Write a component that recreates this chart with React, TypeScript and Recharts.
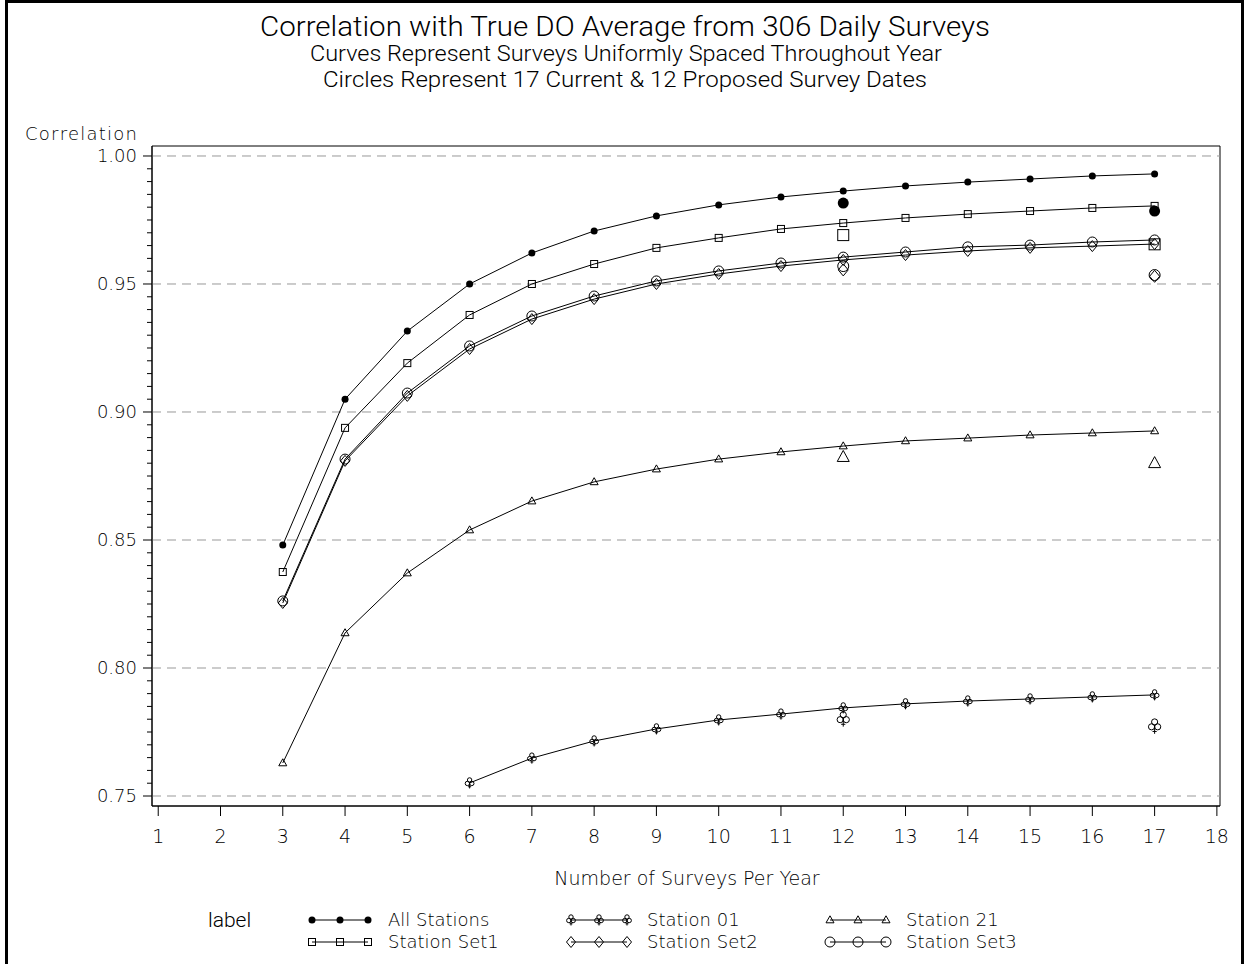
import {
  ComposedChart,
  Line,
  Scatter,
  XAxis,
  YAxis,
  ReferenceLine,
  ReferenceArea,
} from 'recharts';

// number of surveys per year on each curve
const surveyCounts = [3, 4, 5, 6, 7, 8, 9, 10, 11, 12, 13, 14, 15, 16, 17];
const station01Counts = [6, 7, 8, 9, 10, 11, 12, 13, 14, 15, 16, 17];

// correlation for uniformly spaced surveys
const allStations = [0.848, 0.905, 0.9316, 0.95, 0.9621, 0.9707, 0.9766, 0.9809, 0.984, 0.9863, 0.9883, 0.9898, 0.991, 0.9922, 0.993];
const stationSet1 = [0.8375, 0.8938, 0.9191, 0.9379, 0.95, 0.9578, 0.9641, 0.968, 0.9715, 0.9738, 0.9758, 0.9773, 0.9785, 0.9797, 0.9805];
const stationSet2 = [0.8254, 0.8809, 0.9063, 0.9246, 0.9363, 0.9441, 0.95, 0.9539, 0.957, 0.9594, 0.9613, 0.9629, 0.9641, 0.9648, 0.9656];
const stationSet3 = [0.8262, 0.8816, 0.9074, 0.9258, 0.9375, 0.9453, 0.9512, 0.9551, 0.9582, 0.9605, 0.9625, 0.9645, 0.9652, 0.9664, 0.9672];
const station21 = [0.7629, 0.8137, 0.8371, 0.8539, 0.8652, 0.8727, 0.8777, 0.8816, 0.8844, 0.8867, 0.8887, 0.8898, 0.891, 0.8918, 0.8926];
const station01 = [0.7551, 0.7648, 0.7715, 0.7762, 0.7797, 0.782, 0.7844, 0.786, 0.7871, 0.7879, 0.7887, 0.7895];

// 12 proposed and 17 current survey dates
const dateCounts = [12, 17];
const allStationsDates = [0.9816, 0.9785];
const stationSet1Dates = [0.9691, 0.9655];
const stationSet2Dates = [0.9555, 0.953];
const stationSet3Dates = [0.957, 0.9535];
const station21Dates = [0.8824, 0.88];
const station01Dates = [0.7801, 0.7773];

const xTicks = [1, 2, 3, 4, 5, 6, 7, 8, 9, 10, 11, 12, 13, 14, 15, 16, 17, 18];
const yMajor = [0.75, 0.8, 0.85, 0.9, 0.95, 1.0];
const yTicks = Array.from({ length: 51 }, (_, i) => Math.round((0.75 + i * 0.005) * 1000) / 1000);

const toPoints = (xs: number[], ys: number[]) => xs.map((x, i) => ({ x, y: ys[i] }));

type Kind = 'dot' | 'square' | 'diamond' | 'circle' | 'triangle' | 'club';

const series: { name: string; kind: Kind; xs: number[]; ys: number[]; dates: number[] }[] = [
  { name: 'Station 01', kind: 'club', xs: station01Counts, ys: station01, dates: station01Dates },
  { name: 'Station 21', kind: 'triangle', xs: surveyCounts, ys: station21, dates: station21Dates },
  { name: 'Station Set2', kind: 'diamond', xs: surveyCounts, ys: stationSet2, dates: stationSet2Dates },
  { name: 'Station Set3', kind: 'circle', xs: surveyCounts, ys: stationSet3, dates: stationSet3Dates },
  { name: 'Station Set1', kind: 'square', xs: surveyCounts, ys: stationSet1, dates: stationSet1Dates },
  { name: 'All Stations', kind: 'dot', xs: surveyCounts, ys: allStations, dates: allStationsDates },
];

const TICK_FONT = "'DejaVu Sans', sans-serif";
const TICK_WEIGHT = 200;
const TITLE_FONT = "Roboto, 'Open Sans', sans-serif";

const Marker = ({ kind, cx, cy, big }: { kind: Kind; cx: number; cy: number; big?: boolean }) => {
  const st = { fill: 'none', stroke: '#000', strokeWidth: 1 };
  switch (kind) {
    case 'dot':
      return <circle cx={cx} cy={cy} r={big ? 5.5 : 3.5} fill="#000" />;
    case 'square': {
      const s = big ? 11 : 7;
      return <rect x={cx - s / 2} y={cy - s / 2} width={s} height={s} {...st} />;
    }
    case 'diamond': {
      const w = big ? 5 : 4.5;
      const h = big ? 6 : 5.5;
      return <polygon points={`${cx},${cy - h} ${cx + w},${cy} ${cx},${cy + h} ${cx - w},${cy}`} {...st} />;
    }
    case 'circle':
      return <circle cx={cx} cy={cy} r={big ? 5.5 : 5} {...st} />;
    case 'triangle': {
      const w = big ? 6 : 4;
      const h = big ? 11 : 7;
      return (
        <polygon
          points={`${cx},${cy - h * 0.6} ${cx + w},${cy + h * 0.4} ${cx - w},${cy + h * 0.4}`}
          {...st}
        />
      );
    }
    case 'club': {
      const s = big ? 14 : 10;
      const r = s * 0.22;
      return (
        <g {...st}>
          <circle cx={cx} cy={cy - s * 0.3} r={r} />
          <circle cx={cx - s * 0.22} cy={cy + s * 0.05} r={r} />
          <circle cx={cx + s * 0.22} cy={cy + s * 0.05} r={r} />
          <line x1={cx} y1={cy - s * 0.1} x2={cx} y2={cy + s * 0.55} />
          <line x1={cx - s * 0.15} y1={cy + s * 0.38} x2={cx + s * 0.15} y2={cy + s * 0.38} />
        </g>
      );
    }
  }
  return null;
};

const YTick = ({ x, y, payload }: any) => {
  const v = Math.round(payload.value * 1000) / 1000;
  const major = yMajor.includes(v);
  return (
    <g>
      <line x1={x - (major ? 9 : 5)} x2={x} y1={y} y2={y} stroke="#000" />
      {major && (
        <text
          x={x - 15}
          y={y}
          dy="0.35em"
          textAnchor="end"
          fontFamily={TICK_FONT}
          fontWeight={TICK_WEIGHT}
          fontSize={18}
          fill="#000"
        >
          {v.toFixed(2)}
        </text>
      )}
    </g>
  );
};

const XTick = ({ x, y, payload }: any) => (
  <g>
    <line x1={x} x2={x} y1={y} y2={y + 10} stroke="#000" />
    <text
      x={x}
      y={y + 30}
      dy="0.35em"
      textAnchor="middle"
      fontFamily={TICK_FONT}
      fontWeight={TICK_WEIGHT}
      fontSize={19}
      fill="#000"
    >
      {payload.value}
    </text>
  </g>
);

// legend layout: three columns, two rows
const legendRows = [
  ['All Stations', 'Station 01', 'Station 21'],
  ['Station Set1', 'Station Set2', 'Station Set3'],
];
const legendCols = [312, 571, 830];
const legendY = [920, 942];

const App = () => (
  <div style={{ position: 'absolute', left: 0, top: 0, width: 1244, height: 964, background: '#fff' }}>
    <div
      style={{
        position: 'absolute',
        left: 5,
        top: 0,
        width: 1233,
        height: 964,
        borderTop: '3px solid #000',
        borderLeft: '3px solid #000',
        borderRight: '4px solid #000',
      }}
    />
    <ComposedChart width={1244} height={964} margin={{ top: 146, right: 24, bottom: 128, left: 92 }}>
      <XAxis
        type="number"
        dataKey="x"
        domain={[0.9, 18.05]}
        ticks={xTicks}
        interval={0}
        allowDataOverflow
        height={30}
        tickSize={0}
        tickMargin={0}
        tickLine={false}
        axisLine={{ stroke: '#000' }}
        tick={<XTick />}
      />
      <YAxis
        type="number"
        dataKey="y"
        domain={[0.7461, 1.0039]}
        ticks={yTicks}
        interval={0}
        allowDataOverflow
        width={60}
        tickSize={0}
        tickMargin={0}
        tickLine={false}
        axisLine={{ stroke: '#000' }}
        tick={<YTick />}
      />
      {yMajor.map((v) => (
        <ReferenceLine key={v} y={v} stroke="#999" strokeDasharray="9 6" />
      ))}
      <ReferenceArea x1={0.9} x2={18.05} y1={0.7461} y2={1.0039} fill="none" stroke="#000" ifOverflow="visible" />

      {series.map((s) => (
        <Line
          key={s.name}
          type="linear"
          data={toPoints(s.xs, s.ys)}
          dataKey="y"
          name={s.name}
          stroke="#000"
          strokeWidth={1}
          isAnimationActive={false}
          dot={(p: any) => <Marker key={`${s.name}-${p.index}`} kind={s.kind} cx={p.cx} cy={p.cy} />}
          activeDot={false}
        />
      ))}

      {series.map((s) => (
        <Scatter
          key={`${s.name}-dates`}
          data={toPoints(dateCounts, s.dates)}
          dataKey="y"
          isAnimationActive={false}
          shape={(p: any) => <Marker kind={s.kind} cx={p.cx} cy={p.cy} big />}
        />
      ))}
    </ComposedChart>

    <svg
      width={1244}
      height={964}
      style={{ position: 'absolute', left: 0, top: 0, pointerEvents: 'none' }}
    >
      <g fontFamily={TITLE_FONT} fontWeight={300} fill="#000" textAnchor="middle" lengthAdjust="spacingAndGlyphs">
        <text x={625} y={36} fontSize={27} textLength={730} lengthAdjust="spacingAndGlyphs">
          Correlation with True DO Average from 306 Daily Surveys
        </text>
        <text x={626} y={61} fontSize={22} textLength={632} lengthAdjust="spacingAndGlyphs">
          Curves Represent Surveys Uniformly Spaced Throughout Year
        </text>
        <text x={625} y={87} fontSize={22} textLength={604} lengthAdjust="spacingAndGlyphs">
          Circles Represent 17 Current &amp; 12 Proposed Survey Dates
        </text>
      </g>
      <text x={25} y={140} fontFamily={TICK_FONT} fontWeight={TICK_WEIGHT} fontSize={18} fill="#000" textLength={112}>
        Correlation
      </text>
      <text
        x={687}
        y={885}
        textAnchor="middle"
        fontFamily={TICK_FONT}
        fontWeight={TICK_WEIGHT}
        fontSize={19}
        fill="#000"
      >
        Number of Surveys Per Year
      </text>
      <text x={208} y={927} fontFamily={TITLE_FONT} fontWeight={300} fontSize={21} fill="#000">
        label
      </text>
      {legendRows.map((row, ri) =>
        row.map((name, ci) => {
          const s = series.find((d) => d.name === name)!;
          const x0 = legendCols[ci];
          const y0 = legendY[ri];
          return (
            <g key={name}>
              <line x1={x0} x2={x0 + 56} y1={y0} y2={y0} stroke="#000" />
              {[0, 28, 56].map((dx) => (
                <Marker key={dx} kind={s.kind} cx={x0 + dx} cy={y0} />
              ))}
              <text
                x={x0 + 76}
                y={y0}
                dy="0.35em"
                fontFamily={TICK_FONT}
                fontWeight={TICK_WEIGHT}
                fontSize={18}
                fill="#000"
              >
                {name}
              </text>
            </g>
          );
        })
      )}
    </svg>
  </div>
);

export default App;
